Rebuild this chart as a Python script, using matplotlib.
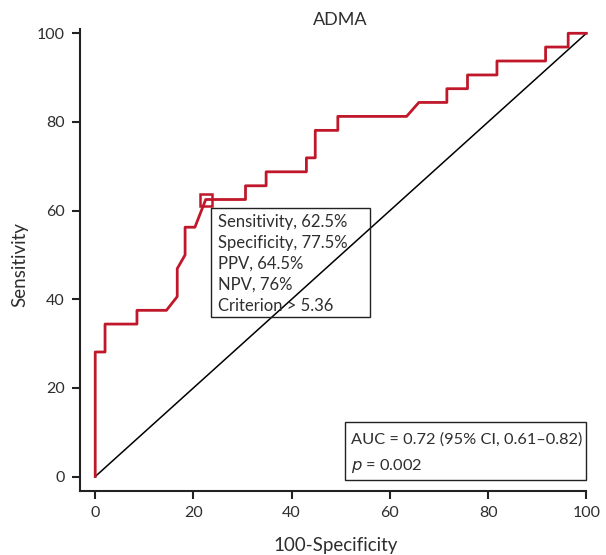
import matplotlib
matplotlib.use("Agg")
import matplotlib.pyplot as plt
from matplotlib.patches import Rectangle

plt.rcParams['font.family'] = ['Lato', 'DejaVu Sans']

# ROC curve vertices (100-Specificity, Sensitivity)
fpr = [0, 0, 2, 2, 8.5, 8.5, 14.5, 16.7, 16.7, 18.3, 18.3, 20.3, 22.5,
       30.6, 30.6, 34.8, 34.8, 43, 43, 44.8, 44.8, 49.4, 49.4, 63.4, 65.9,
       71.6, 71.6, 75.8, 75.8, 81.8, 81.8, 91.7, 91.7, 96.3, 96.3, 100]
tpr = [0, 28.1, 28.1, 34.4, 34.4, 37.5, 37.5, 40.6, 46.9, 50, 56.25, 56.25, 62.5,
       62.5, 65.6, 65.6, 68.75, 68.75, 71.9, 71.9, 78.1, 78.1, 81.25, 81.25, 84.4,
       84.4, 87.5, 87.5, 90.6, 90.6, 93.75, 93.75, 96.9, 96.9, 100, 100]
cut_x, cut_y = 22.5, 62.5

ticks = [0, 20, 40, 60, 80, 100]
stats_lines = ["Sensitivity, 62.5%", "Specificity, 77.5%", "PPV, 64.5%",
               "NPV, 76%", "Criterion > 5.36"]
auc_line = "AUC = 0.72 (95% CI, 0.61\u20130.82)"
p_line = "$\\it{p}$ = 0.002"

red = "#c0182a"
txt = "#2e2e2e"

fig = plt.figure(figsize=(6.06, 5.55), dpi=100)
ax = fig.add_axes([0.132, 0.115, 0.838, 0.833])

ax.plot([0, 100], [0, 100], color="black", lw=1.1, zorder=2)
ax.plot(fpr, tpr, color=red, lw=2.0, zorder=3)
ax.plot([cut_x], [cut_y], marker="s", ms=8, mfc="none", mec=red, mew=1.8, zorder=4)

ax.set_xlim(-3.1, 100.3)
ax.set_ylim(-3.3, 101)
ax.set_xticks(ticks)
ax.set_yticks(ticks)
for s in ["top", "right"]:
    ax.spines[s].set_visible(False)
for s in ["left", "bottom"]:
    ax.spines[s].set_linewidth(1.5)
    ax.spines[s].set_color("#222222")
ax.spines["bottom"].set_bounds(-3.1, 100)
ax.tick_params(direction="out", length=6, width=1.5, color="#222222",
               labelsize=11.5, labelcolor=txt, pad=5)

# stats box
ax.add_patch(Rectangle((23.5, 36), 32.5, 24.5, fill=False, ec="#222222", lw=1.0, zorder=5))
for i, s in enumerate(stats_lines):
    ax.text(25, 57.5 - i * 4.75, s, fontsize=12, color=txt, va="center", ha="left", zorder=6)

# AUC box
ax.add_patch(Rectangle((50.8, -0.7), 49.1, 12.9, fill=False, ec="#222222", lw=1.0, zorder=5))
ax.text(52, 8.3, auc_line, fontsize=11.8, color=txt, va="center", ha="left", zorder=6)
ax.text(52, 2.4, p_line, fontsize=11.8, color=txt, va="center", ha="left", zorder=6)

fig.text(340 / 606, 1 - 20 / 555, "ADMA", fontsize=13, color=txt, ha="center", va="center")
fig.text(336 / 606, 1 - 545 / 555, "100-Specificity", fontsize=13.5, color=txt,
         ha="center", va="center")
fig.text(20 / 606, 1 - 265 / 555, "Sensitivity", fontsize=13.5, color=txt,
         ha="center", va="center", rotation=90)

fig.savefig("out.png", dpi=100)
